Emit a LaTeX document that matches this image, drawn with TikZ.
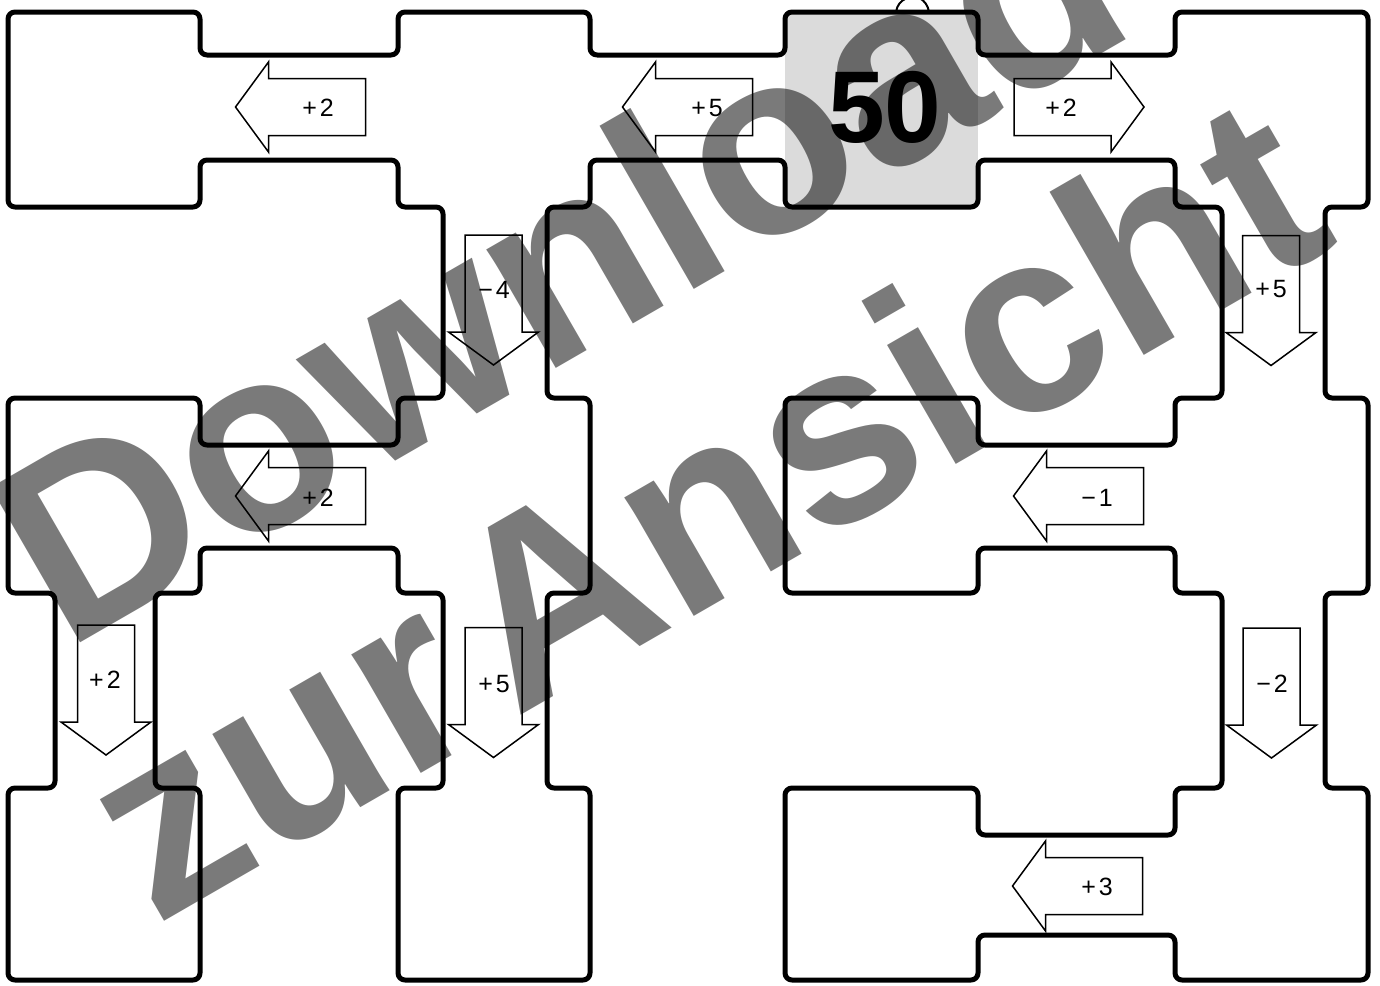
\documentclass[tikz,border=0pt]{standalone}
\usepackage{fontspec}
\setmainfont{Liberation Sans}
\usetikzlibrary{positioning}

\begin{document}
\begin{tikzpicture}[
    x = 1pt, y = -1pt,
    wall/.style    = {line width=5pt, rounded corners=7pt, line join=round},
    opline/.style  = {draw=black, line width=1.5pt, fill=white, line join=miter},
    oplabel/.style = {inner sep=0pt, font=\fontsize{25}{29}\selectfont},
    startno/.style = {inner sep=0pt, font=\fontsize{102}{110}\selectfont\bfseries},
    wmark/.style   = {inner sep=0pt, anchor=base west, rotate=30,
                      text=black, text opacity=0.52,
                      font=\fontsize{260}{280}\selectfont\bfseries},
    oparrow/.pic   = {
      \draw[opline] (-65,-28.5) -- (32,-28.5) -- (32,-45) -- (65,0)
        -- (32,45) -- (32,28.5) -- (-65,28.5) -- cycle;
    }
  ]
  \useasboundingbox (0,0) rectangle (1380,985);

  % start field
  \fill[black!14] (785,12) rectangle (978,207);

  % outline of all fields and passages
  \draw[wall]
    (8,12) -- (200,12) -- (200,55) -- (398,55) -- (398,12) -- (590,12)
    -- (590,55) -- (785,55) -- (785,12) -- (978,12) -- (978,55)
    -- (1175,55) -- (1175,12) -- (1368,12) -- (1368,207) -- (1325,207)
    -- (1325,398) -- (1368,398) -- (1368,593) -- (1325,593) -- (1325,788)
    -- (1368,788) -- (1368,980) -- (1175,980) -- (1175,935) -- (978,935)
    -- (978,980) -- (785,980) -- (785,788) -- (978,788) -- (978,835)
    -- (1175,835) -- (1175,788) -- (1222,788) -- (1222,593) -- (1175,593)
    -- (1175,548) -- (978,548) -- (978,593) -- (785,593) -- (785,398)
    -- (978,398) -- (978,445) -- (1175,445) -- (1175,398) -- (1222,398)
    -- (1222,207) -- (1175,207) -- (1175,160) -- (978,160) -- (978,207)
    -- (785,207) -- (785,160) -- (590,160) -- (590,207) -- (547,207)
    -- (547,398) -- (590,398) -- (590,593) -- (547,593) -- (547,788)
    -- (590,788) -- (590,980) -- (398,980) -- (398,788) -- (443,788)
    -- (443,593) -- (398,593) -- (398,548) -- (200,548) -- (200,593)
    -- (155,593) -- (155,788) -- (200,788) -- (200,980) -- (8,980)
    -- (8,788) -- (55,788) -- (55,593) -- (8,593) -- (8,398) -- (200,398)
    -- (200,445) -- (398,445) -- (398,398) -- (443,398) -- (443,207)
    -- (398,207) -- (398,160) -- (200,160) -- (200,207) -- (8,207) -- cycle;

  % arrows
  \pic[rotate=180] at (300.5,107) {oparrow};
  \pic[rotate=180] at (687.5,107) {oparrow};
  \pic             at (1079,107)  {oparrow};
  \pic[rotate=-90] at (493.5,300) {oparrow};
  \pic[rotate=-90] at (1271,300.5) {oparrow};
  \pic[rotate=180] at (300.5,496) {oparrow};
  \pic[rotate=180] at (1078.5,496) {oparrow};
  \pic[rotate=-90] at (106,690)   {oparrow};
  \pic[rotate=-90] at (493.5,692.5) {oparrow};
  \pic[rotate=-90] at (1271.5,693) {oparrow};
  \pic[rotate=180] at (1077.5,886) {oparrow};

  \node[oplabel] (opa) at (318,108)  {+\kern3pt2};
  \node[oplabel] (opb) at (707,108)  {+\kern3pt5};
  \node[oplabel] (opc) at (1061,108) {+\kern3pt2};
  \node[oplabel] (opd) at (494,290)  {−\kern3pt4};
  \node[oplabel] (ope) at (1271,289) {+\kern3pt5};
  \node[oplabel] (opf) at (318,498)  {+\kern3pt2};
  \node[oplabel] (opg) at (1097,498) {−\kern3pt1};
  \node[oplabel] (oph) at (105,680)  {+\kern3pt2};
  \node[oplabel] (opi) at (494,684)  {+\kern3pt5};
  \node[oplabel] (opj) at (1272,684) {−\kern3pt2};
  \node[oplabel] (opk) at (1097,887) {+\kern3pt3};

  \node[startno] (fifty) at (885,107) {50};

  % cut-off figure above the start field
  \draw[line width=2pt] (896,12) .. controls (897,5) and (901,1) .. (905,-1);
  \draw[line width=2pt] (929,12) .. controls (928,5) and (924,1) .. (921,-1);

  % watermark
  \node[wmark] (dl) at (65,652)  {Download};
  \node[wmark] (za) at (155,927) {\spaceskip=0.1em\relax zur Ansicht};
\end{tikzpicture}
\end{document}
